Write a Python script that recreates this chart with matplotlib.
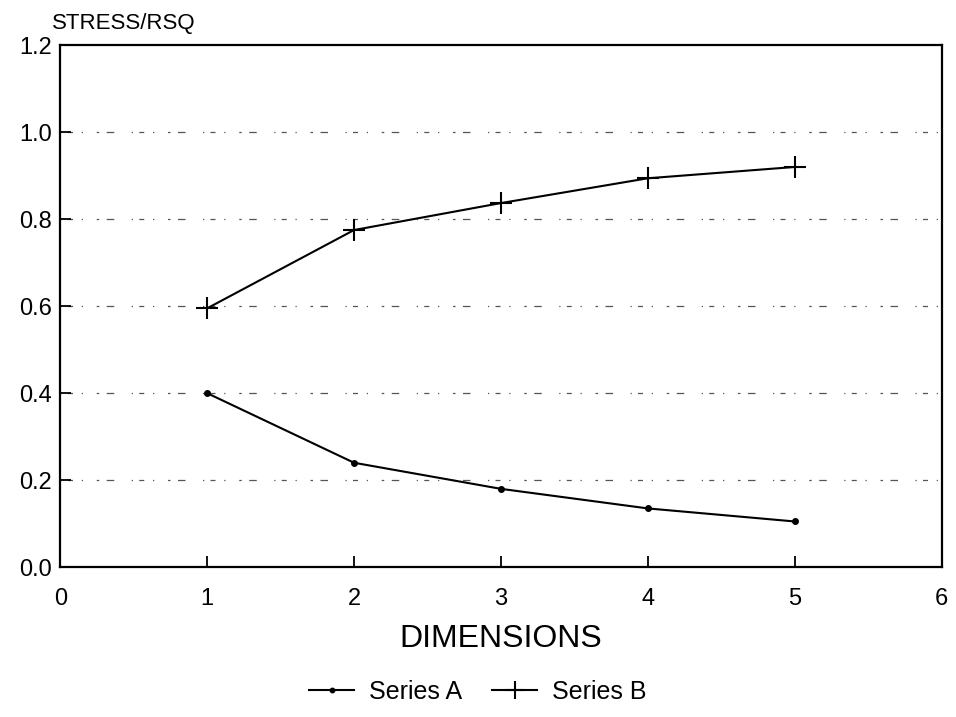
import matplotlib.pyplot as plt

plt.rcParams['font.family'] = ['Liberation Sans', 'DejaVu Sans']

dimensions = [1, 2, 3, 4, 5]
series_a = [0.40, 0.24, 0.18, 0.135, 0.105]
series_b = [0.595, 0.775, 0.837, 0.894, 0.92]

x_ticks = [0, 1, 2, 3, 4, 5, 6]
y_ticks = [0.0, 0.2, 0.4, 0.6, 0.8, 1.0, 1.2]

fig = plt.figure(figsize=(9.56, 7.17), dpi=100)
ax = fig.add_axes([0.063, 0.209, 0.922, 0.728])

# broken dotted grid lines
for y in y_ticks[1:-1]:
    ax.axhline(y, color='#555555', lw=0.9,
               linestyle=(0, (1, 5, 4, 7, 1, 11, 2, 6, 6, 14)), zorder=1)

ax.plot(dimensions, series_a, color='black', lw=1.5, marker='o',
        markersize=4, label='Series A', zorder=3)
ax.plot(dimensions, series_b, color='black', lw=1.5, marker='+',
        markersize=16, markeredgewidth=1.5, label='Series B', zorder=3)

ax.set_xlim(0, 6)
ax.set_ylim(0, 1.2)
ax.set_xticks(x_ticks)
ax.set_yticks(y_ticks)
ax.set_yticklabels(['%.1f' % v for v in y_ticks])
ax.tick_params(direction='in', length=8, width=1.3, labelsize=17, colors='black')
ax.tick_params(axis='x', pad=15)
ax.tick_params(axis='y', pad=6)
for s in ax.spines.values():
    s.set_linewidth(1.6)

ax.set_xlabel('DIMENSIONS', fontsize=23, labelpad=10)
fig.text(0.054, 0.953, 'STRESS/RSQ', fontsize=16, ha='left', va='bottom')

fig.legend(loc='lower center', bbox_to_anchor=(0.5, -0.013), ncol=2,
           frameon=False, fontsize=18, handlelength=1.8, columnspacing=1.2,
           handletextpad=0.6, markerscale=0.8)

fig.savefig('out.png', dpi=100)
